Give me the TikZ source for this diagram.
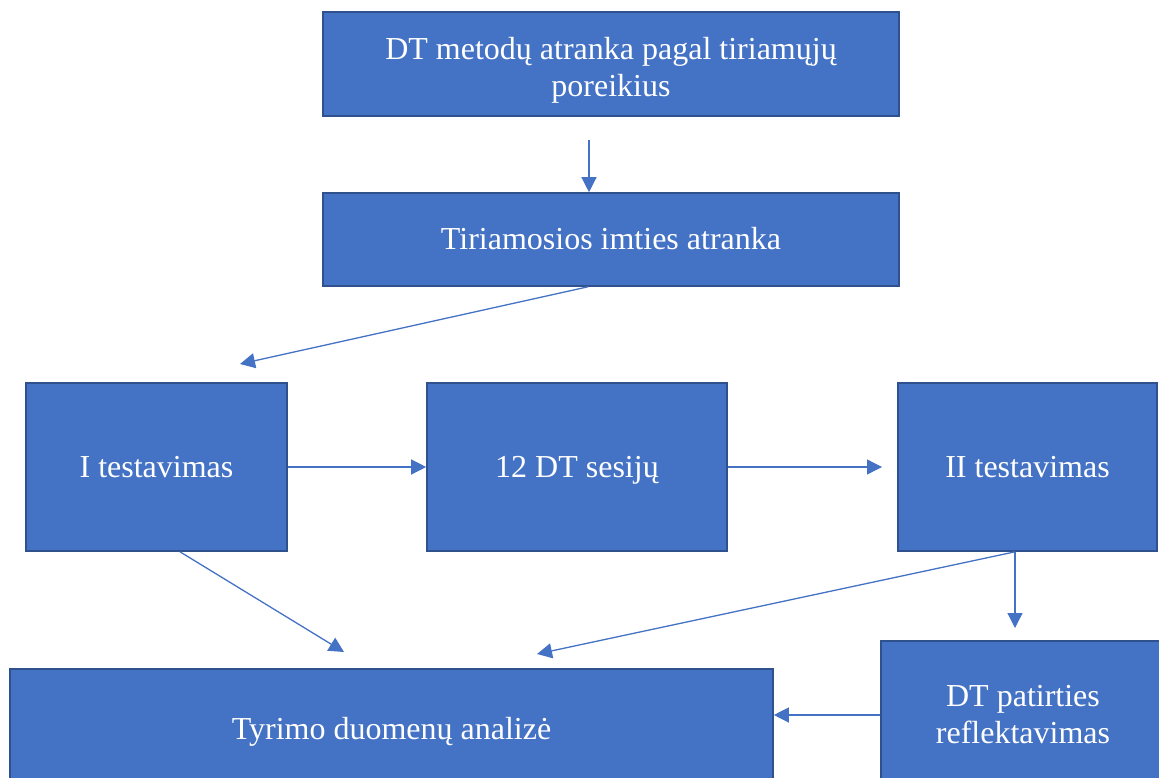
\documentclass[tikz,border=0pt]{standalone}
\usepackage{fontspec}
\setmainfont{Liberation Serif}
\usetikzlibrary{arrows.meta}
\definecolor{boxfill}{HTML}{4472C4}
\definecolor{boxline}{HTML}{2F528F}
\begin{document}
\begin{tikzpicture}[x=1pt,y=-1pt,
  boxtext/.style={text=white,inner sep=0pt,align=center,font=\fontsize{32}{37}\selectfont},
  box/.style={boxtext,draw=boxline,line width=1.6pt,fill=boxfill},
  one/.style={text height=21pt,text depth=0pt},
  conn/.style={draw=boxfill,line width=1.3pt,-{Triangle[length=15pt,width=15pt]}}]
\useasboundingbox (0,0) rectangle (1159,778);
\node[box,minimum width=576pt,minimum height=104pt] (b1) at (611,64) {};
\node[boxtext] (b1t) at ([yshift=-6pt]b1.center) {DT metodų atranka pagal tiriamųjų\\poreikius};
\node[box,one,minimum width=576pt,minimum height=93pt] (b2) at (611,239.5) {Tiriamosios imties atranka};
\node[box,one,minimum width=261pt,minimum height=168pt] (b3) at (156.5,467) {I testavimas};
\node[box,one,minimum width=300pt,minimum height=168pt] (b4) at (577,467) {12 DT sesijų};
\node[box,one,minimum width=259pt,minimum height=168pt] (b5) at (1027.5,467) {II testavimas};
\node[box,one,minimum width=763pt,minimum height=120pt] (b6) at (391.5,729) {Tyrimo duomenų analizė};
\node[box,minimum width=284pt,minimum height=148pt] (b7) at (1023,715) {DT patirties\\reflektavimas};
\coordinate (s1) at (589,140);
\coordinate (t2) at (240,364);
\coordinate (t4) at (882,467);
\coordinate (t5) at (344,652);
\coordinate (t6) at (537,654);
\coordinate (t7) at (1015,628);
\draw[conn] (s1) -- (s1 |- b2.north);
\draw[conn] ([xshift=-23pt]b2.south) -- (t2);
\draw[conn] (b3.east) -- (b4.west);
\draw[conn] (b4.east) -- (t4);
\draw[conn] ([xshift=23.5pt]b3.south) -- (t5);
\draw[conn] ([xshift=-12.5pt]b5.south) -- (t6);
\draw[conn] ([xshift=-12.5pt]b5.south) -- (t7);
\draw[conn] (b7.west) -- (b7.west -| b6.east);
\end{tikzpicture}
\end{document}
